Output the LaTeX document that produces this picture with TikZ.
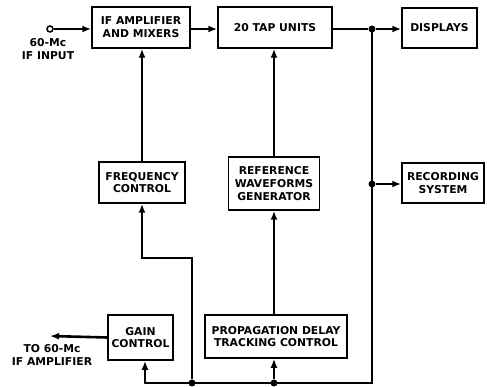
\documentclass[tikz,border=0pt]{standalone}
\usepackage{fontspec}
\setmainfont{DejaVu Sans}
\usetikzlibrary{arrows.meta}
\begin{document}
\begin{tikzpicture}[x=1pt,y=-1pt,
  box/.style={draw,line width=1.5pt,align=center,inner sep=0pt,font=\bfseries\fontsize{10.8}{12.8}\selectfont},
  lbl/.style={align=center,inner sep=0pt,font=\bfseries\fontsize{10.8}{12.8}\selectfont},
  conn/.style={line width=2.6pt,-{Latex[length=9pt,width=7pt]}},
  wire/.style={line width=2.6pt},
  dot/.style={circle,fill,inner sep=0pt,minimum size=7pt}]
\useasboundingbox (0,0) rectangle (487,387);
\node[box,minimum width=98pt,minimum height=41pt] (ifa) at (141,27.5) {IF AMPLIFIER\\AND MIXERS};
\node[box,minimum width=114pt,minimum height=41pt] (tap) at (275,27.5) {20 TAP UNITS};
\node[box,minimum width=75pt,minimum height=40pt] (disp) at (439.5,28) {DISPLAYS};
\node[box,minimum width=86pt,minimum height=41pt] (freq) at (142,182.5) {FREQUENCY\\CONTROL};
\node[box,minimum width=91pt,minimum height=53pt] (ref) at (274,183.5) {REFERENCE\\WAVEFORMS\\GENERATOR};
\node[box,minimum width=82pt,minimum height=40pt] (rec) at (443,183) {RECORDING\\SYSTEM};
\node[box,minimum width=65pt,minimum height=45pt] (gain) at (140.5,337.5) {GAIN\\CONTROL};
\node[box,minimum width=142pt,minimum height=43pt] (prop) at (276,336.5) {PROPAGATION DELAY\\TRACKING CONTROL};
\node[draw,circle,line width=1.5pt,inner sep=0pt,minimum size=6pt] (in) at (50,29) {};
\node[lbl] (inl) at (48,49) {60-Mc\\IF INPUT};
\coordinate (out) at (50,336);
\node[lbl,anchor=north] (outl) at (52,344) {TO 60-Mc\\IF AMPLIFIER};
\node[dot] (j1) at (372,29) {};
\node[dot] (j2) at (372,184) {};
\node[dot] (j3) at (192,383) {};
\node[dot] (j4) at (274,383) {};
\coordinate (bl) at (145,383);
\coordinate (br) at (372,383);
\draw[conn] (in) -- (ifa.west|-in);
\draw[conn] (ifa.east|-in) -- (tap.west|-in);
\draw[wire] (tap.east|-j1) -- (j1);
\draw[conn] (j1) -- (disp.west|-j1);
\draw[conn] (j2) -- (rec.west|-j2);
\draw[conn] (freq.north) -- (ifa.south-|freq.north);
\draw[conn] (ref.north) -- (ref.north|-tap.south);
\draw[conn] (j4) -- (j4|-prop.south);
\draw[conn] (prop.north-|ref.north) -- (ref.south);
\draw[conn] (j3) -- (192,258) -- (142,258) -- (freq.south);
\draw[conn] (bl) -- (bl|-gain.south);
\draw[wire,line cap=round] (bl) -- (br) -- (j1);
\draw[conn] (gain.west) -- (out);
\end{tikzpicture}
\end{document}
